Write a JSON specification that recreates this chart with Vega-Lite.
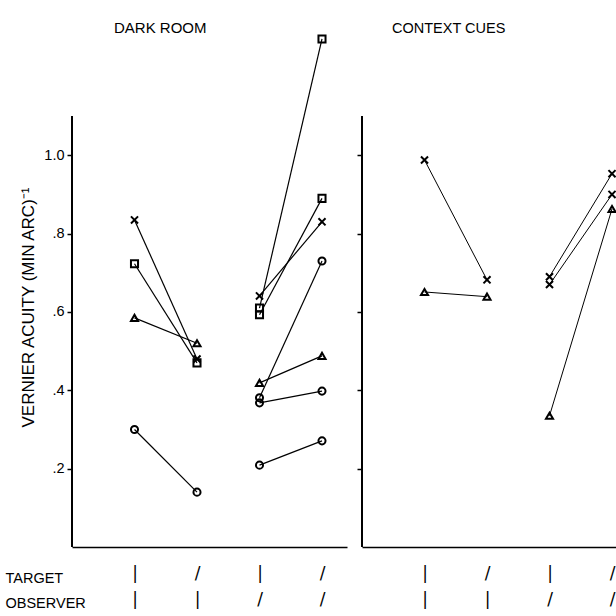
{
  "$schema": "https://vega.github.io/schema/vega-lite/v6.json",
  "padding": {"left": 5, "top": 20, "right": 0, "bottom": 0},
  "background": "white",
  "config": {
    "view": {"stroke": null},
    "font": "Liberation Sans",
    "concat": {"spacing": 9},
    "axis": {"grid": false, "domainColor": "black", "tickColor": "black", "labelColor": "black", "titleColor": "black", "domainWidth": 1.5, "tickWidth": 1.5}
  },
  "data": {"values": [
    {"panel": "DARK ROOM", "pair": "d1", "marker": "x", "cond": 1, "v": 0.835},
    {"panel": "DARK ROOM", "pair": "d1", "marker": "x", "cond": 2, "v": 0.48},
    {"panel": "DARK ROOM", "pair": "d2", "marker": "square", "cond": 1, "v": 0.723},
    {"panel": "DARK ROOM", "pair": "d2", "marker": "square", "cond": 2, "v": 0.47},
    {"panel": "DARK ROOM", "pair": "d3", "marker": "triangle", "cond": 1, "v": 0.585},
    {"panel": "DARK ROOM", "pair": "d3", "marker": "triangle", "cond": 2, "v": 0.52},
    {"panel": "DARK ROOM", "pair": "d4", "marker": "circle", "cond": 1, "v": 0.30},
    {"panel": "DARK ROOM", "pair": "d4", "marker": "circle", "cond": 2, "v": 0.14},
    {"panel": "DARK ROOM", "pair": "d5", "marker": "x", "cond": 3, "v": 0.641},
    {"panel": "DARK ROOM", "pair": "d5", "marker": "x", "cond": 4, "v": 0.83},
    {"panel": "DARK ROOM", "pair": "d6", "marker": "square", "cond": 3, "v": 0.61},
    {"panel": "DARK ROOM", "pair": "d6", "marker": "square", "cond": 4, "v": 1.297},
    {"panel": "DARK ROOM", "pair": "d7", "marker": "square", "cond": 3, "v": 0.593},
    {"panel": "DARK ROOM", "pair": "d7", "marker": "square", "cond": 4, "v": 0.89},
    {"panel": "DARK ROOM", "pair": "d8", "marker": "triangle", "cond": 3, "v": 0.419},
    {"panel": "DARK ROOM", "pair": "d8", "marker": "triangle", "cond": 4, "v": 0.488},
    {"panel": "DARK ROOM", "pair": "d9", "marker": "circle", "cond": 3, "v": 0.381},
    {"panel": "DARK ROOM", "pair": "d9", "marker": "circle", "cond": 4, "v": 0.73},
    {"panel": "DARK ROOM", "pair": "d10", "marker": "circle", "cond": 3, "v": 0.368},
    {"panel": "DARK ROOM", "pair": "d10", "marker": "circle", "cond": 4, "v": 0.398},
    {"panel": "DARK ROOM", "pair": "d11", "marker": "circle", "cond": 3, "v": 0.209},
    {"panel": "DARK ROOM", "pair": "d11", "marker": "circle", "cond": 4, "v": 0.271},
    {"panel": "CONTEXT CUES", "pair": "c1", "marker": "x", "cond": 1, "v": 0.988},
    {"panel": "CONTEXT CUES", "pair": "c1", "marker": "x", "cond": 2, "v": 0.682},
    {"panel": "CONTEXT CUES", "pair": "c2", "marker": "triangle", "cond": 1, "v": 0.651},
    {"panel": "CONTEXT CUES", "pair": "c2", "marker": "triangle", "cond": 2, "v": 0.639},
    {"panel": "CONTEXT CUES", "pair": "c3", "marker": "x", "cond": 3, "v": 0.69},
    {"panel": "CONTEXT CUES", "pair": "c3", "marker": "x", "cond": 4, "v": 0.953},
    {"panel": "CONTEXT CUES", "pair": "c4", "marker": "x", "cond": 3, "v": 0.67},
    {"panel": "CONTEXT CUES", "pair": "c4", "marker": "x", "cond": 4, "v": 0.90},
    {"panel": "CONTEXT CUES", "pair": "c5", "marker": "triangle", "cond": 3, "v": 0.335},
    {"panel": "CONTEXT CUES", "pair": "c5", "marker": "triangle", "cond": 4, "v": 0.863}
  ]},
  "hconcat": [
    {
      "width": 275,
      "height": 521,
      "title": {"text": "DARK ROOM", "anchor": "start", "frame": "group", "dx": 42, "offset": -10, "fontSize": 15, "fontWeight": "normal", "font": "Liberation Sans"},
      "transform": [{"filter": "datum.panel == 'DARK ROOM'"}],
      "encoding": {
        "x": {"field": "cond", "type": "quantitative", "scale": {"domain": [0, 4.4], "nice": false, "zero": false},
          "axis": {"values": [1, 2, 3, 4], "ticks": false, "labelExpr": "datum.value == 1 ? ['|','|'] : datum.value == 2 ? ['/','|'] : datum.value == 3 ? ['|','/'] : ['/','/']", "labelFont": "DejaVu Sans", "labelFontSize": 17, "labelLineHeight": 26, "labelPadding": 18,
            "title": ["TARGET", "OBSERVER"], "titleFontSize": 14.5, "titleFontWeight": "normal", "titleLineHeight": 25, "titleX": -67, "titleY": 24, "titleAlign": "left", "titleBaseline": "top"}},
        "y": {"field": "v", "type": "quantitative", "scale": {"domain": [0, 1.33], "nice": false},
          "axis": {"values": [0.2, 0.4, 0.6, 0.8, 1.0], "domain": false, "labelExpr": "datum.value == 1 ? '1.0' : replace(format(datum.value, '.1f'), '0.', '.')", "labelFontSize": 14.5, "tickSize": 5, "labelPadding": 3,
            "title": "VERNIER ACUITY (MIN ARC)⁻¹", "titleFontSize": 17, "titleFontWeight": "normal", "titleY": 281, "titlePadding": 6}}
      },
      "layer": [
        {"mark": {"type": "rule", "color": "black", "strokeWidth": 1.5}, "encoding": {"x": {"datum": 0, "type": "quantitative"}, "y": {"datum": 0, "type": "quantitative"}, "y2": {"datum": 1.1}}},
        {"mark": {"type": "line", "color": "black", "strokeWidth": 1.2}, "encoding": {"detail": {"field": "pair"}}},
        {"mark": {"type": "point", "filled": false, "color": "black", "strokeWidth": 2, "size": 50, "opacity": 1},
          "encoding": {"shape": {"field": "marker", "scale": {"domain": ["x", "square", "triangle", "circle"], "range": ["M-1,-1L1,1M-1,1L1,-1", "square", "triangle-up", "circle"]}, "legend": null}}}
      ]
    },
    {
      "width": 254,
      "height": 521,
      "title": {"text": "CONTEXT CUES", "anchor": "start", "frame": "group", "dx": 30, "offset": -10, "fontSize": 14.5, "fontWeight": "normal", "font": "Liberation Sans"},
      "transform": [{"filter": "datum.panel == 'CONTEXT CUES'"}],
      "encoding": {
        "x": {"field": "cond", "type": "quantitative", "scale": {"domain": [0, 4.064], "nice": false, "zero": false},
          "axis": {"values": [1, 2, 3, 4], "ticks": false, "labelExpr": "datum.value == 1 ? ['|','|'] : datum.value == 2 ? ['/','|'] : datum.value == 3 ? ['|','/'] : ['/','/']", "labelFont": "DejaVu Sans", "labelFontSize": 17, "labelLineHeight": 26, "labelPadding": 18, "title": null}},
        "y": {"field": "v", "type": "quantitative", "scale": {"domain": [0, 1.33], "nice": false},
          "axis": {"values": [0.2, 0.4, 0.6, 0.8, 1.0], "domain": false, "labels": false, "tickSize": 5, "title": null}}
      },
      "layer": [
        {"mark": {"type": "rule", "color": "black", "strokeWidth": 1.5}, "encoding": {"x": {"datum": 0, "type": "quantitative"}, "y": {"datum": 0, "type": "quantitative"}, "y2": {"datum": 1.1}}},
        {"mark": {"type": "line", "color": "black", "strokeWidth": 1.0}, "encoding": {"detail": {"field": "pair"}}},
        {"mark": {"type": "point", "filled": false, "color": "black", "strokeWidth": 2, "size": 50, "opacity": 1},
          "encoding": {"shape": {"field": "marker", "scale": {"domain": ["x", "square", "triangle", "circle"], "range": ["M-1,-1L1,1M-1,1L1,-1", "square", "triangle-up", "circle"]}, "legend": null}}}
      ]
    }
  ]
}
